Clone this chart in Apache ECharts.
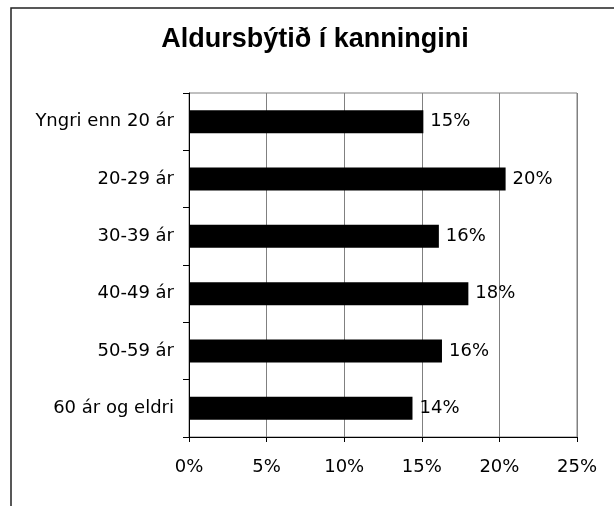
<!DOCTYPE html>
<html>
<head>
<meta charset="utf-8">
<title>Aldursbýtið í kanningini</title>
<script src="https://cdn.jsdelivr.net/npm/echarts@6/dist/echarts.min.js"></script>
<style>
  html, body { margin: 0; padding: 0; background: #fff; }
  #chart { width: 614px; height: 506px; }
</style>
</head>
<body>
<div id="chart"></div>
<script>
// aldurshópar og hlutfall (%)
var categories = ['Yngri enn 20 ár', '20-29 ár', '30-39 ár', '40-49 ár', '50-59 ár', '60 ár og eldri'];
var shares     = [15.1, 20.4, 16.1, 18.0, 16.3, 14.4];
var xTicks     = [0, 5, 10, 15, 20, 25];

var titleFont = '"Liberation Sans", Arial, Helvetica, sans-serif';
var font = '"DejaVu Sans", "Liberation Sans", Arial, sans-serif';

var chart = echarts.init(document.getElementById('chart'));
chart.setOption({
    backgroundColor: '#fff',
    animation: false,
    textStyle: { fontFamily: font },
    graphic: [
        {
            // ytri rammi, bara efri og vinstri brún sjást
            type: 'rect',
            shape: { x: 11, y: 8, width: 700, height: 600 },
            style: { fill: 'none', stroke: '#222', lineWidth: 1.5 },
            silent: true
        },
        {
            type: 'text',
            x: 315,
            y: 40,
            style: {
                text: 'Aldursbýtið í kanningini',
                fontFamily: titleFont,
                fontSize: 27,
                fontWeight: 'bold',
                fill: '#000',
                textAlign: 'center',
                textVerticalAlign: 'middle'
            }
        }
    ],
    grid: {
        left: 189,
        right: 37,
        top: 93,
        bottom: 69,
        show: true,
        borderColor: '#808080',
        borderWidth: 1,
        backgroundColor: 'transparent'
    },
    xAxis: {
        type: 'value',
        min: xTicks[0],
        max: xTicks[xTicks.length - 1],
        interval: 5,
        axisLine: { show: true, lineStyle: { color: '#000', width: 1 } },
        axisTick: { show: true, length: 5, lineStyle: { color: '#000' } },
        axisLabel: {
            formatter: '{value}%',
            color: '#000',
            fontFamily: font,
            fontSize: 18,
            margin: 21
        },
        splitLine: { show: true, lineStyle: { color: '#808080', width: 1 } }
    },
    yAxis: {
        type: 'category',
        data: categories,
        inverse: true,
        axisLine: { show: true, lineStyle: { color: '#000', width: 1 } },
        axisTick: { show: true, length: 6, lineStyle: { color: '#000' } },
        axisLabel: { color: '#000', fontFamily: font, fontSize: 18, margin: 15 },
        splitLine: { show: false }
    },
    series: [{
        type: 'bar',
        data: shares,
        barWidth: 23,
        itemStyle: { color: '#000' },
        label: {
            show: true,
            position: 'right',
            distance: 7,
            color: '#000',
            fontFamily: font,
            fontSize: 18,
            formatter: function (p) { return Math.round(p.value) + '%'; }
        }
    }]
});
</script>
</body>
</html>
